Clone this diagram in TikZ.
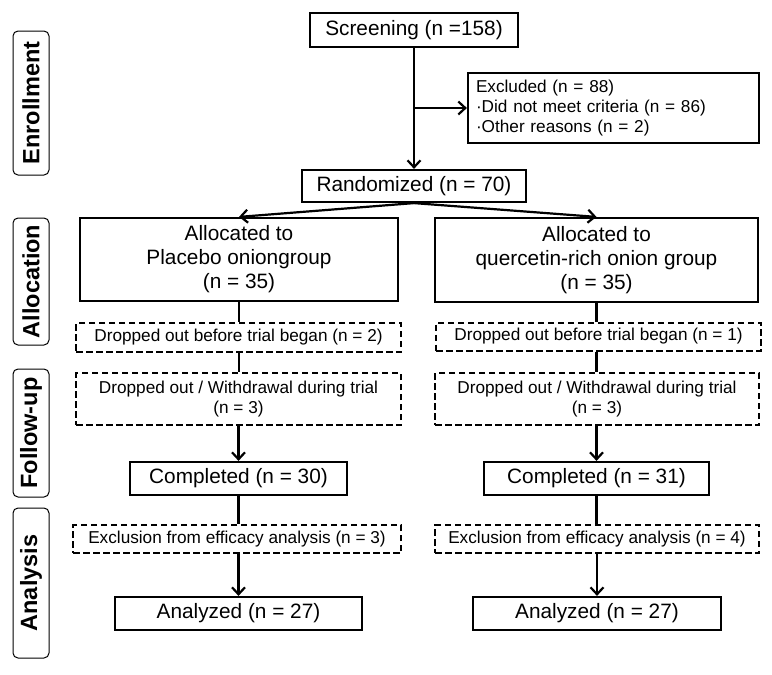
\documentclass[tikz,border=0pt]{standalone}
\usepackage{fontspec}
\setmainfont{Liberation Sans}
\usetikzlibrary{arrows.meta}
\begin{document}
\begin{tikzpicture}[x=1pt,y=-1pt,
  box/.style={draw,line width=2.2pt,inner sep=0pt,align=center,font=\fontsize{20.8}{24}\selectfont},
  dbox/.style={draw,line width=2pt,dash pattern=on 6.5pt off 3.5pt,inner sep=0pt,align=center,font=\fontsize{17.2}{20}\selectfont},
  side/.style={draw,line width=1pt,rounded corners=5pt,rotate=90,inner sep=0pt,minimum height=36pt,font=\fontsize{23.5}{26}\selectfont\bfseries},
  conn/.style={line width=2.2pt},
  arr/.style={conn,-{Straight Barb[length=7pt,width=13pt,line width=2.2pt]}}
]
\useasboundingbox[fill=white] (0,0) rectangle (772,675);
% side labels
\node[side,minimum width=144pt] (senr) at (31,103) {Enrollment};
\node[side,minimum width=127pt] (sall) at (31,281.5) {Allocation};
\node[side,minimum width=128pt] (sfol) at (31,433) {Follow-up};
\node[side,minimum width=150pt] (sana) at (31,583) {Analysis};
% top
\node[box,minimum width=208pt,minimum height=34pt] (scr) at (414,30) {Screening (n =158)};
\node[draw,line width=2.2pt,inner xsep=8pt,inner ysep=0pt,align=left,text width=275pt,minimum height=70pt,font=\fontsize{17.2}{20}\selectfont] (exc) at (613.5,108) {Excluded (n = 88)\\·Did not meet criteria (n = 86)\\·Other reasons (n = 2)};
\node[box,minimum width=224pt,minimum height=32pt] (rnd) at (414,186) {Randomized (n = 70)};
% allocation
\node[box,minimum width=318pt,minimum height=83pt] (al) at (239,259.5) {Allocated to\\Placebo oniongroup\\(n = 35)};
\node[box,minimum width=323pt,minimum height=84pt] (ar) at (596.5,260) {Allocated to\\quercetin-rich onion group\\(n = 35)};
\node[dbox,minimum width=325pt,minimum height=29pt] (dbl) at (238.5,337.5) {Dropped out before trial began (n = 2)};
\node[dbox,minimum width=325pt,minimum height=28pt] (dbr) at (598.5,336.5) {Dropped out before trial began (n = 1)};
% follow-up
\node[dbox,minimum width=325pt,minimum height=52pt] (wl) at (238.5,399) {Dropped out / Withdrawal during trial\\(n = 3)};
\node[dbox,minimum width=324pt,minimum height=52pt] (wr) at (597,399) {Dropped out / Withdrawal during trial\\(n = 3)};
\node[box,minimum width=217pt,minimum height=33pt] (cl) at (238.5,478.5) {Completed (n = 30)};
\node[box,minimum width=225pt,minimum height=33pt] (cr) at (596.5,478.5) {Completed (n = 31)};
% analysis
\node[dbox,minimum width=328pt,minimum height=28pt] (el) at (237,539) {Exclusion from efficacy analysis (n = 3)};
\node[dbox,minimum width=324pt,minimum height=28pt] (er) at (597,539) {Exclusion from efficacy analysis (n = 4)};
\node[box,minimum width=247pt,minimum height=33pt] (nl) at (238.5,613.5) {Analyzed (n = 27)};
\node[box,minimum width=248pt,minimum height=33pt] (nr) at (597,613.5) {Analyzed (n = 27)};
% connectors
\draw[arr] (scr.south) -- (rnd.north);
\coordinate (ej) at (scr.south |- exc.west);
\draw[arr] (ej) -- (exc.west);
\draw[arr] (rnd.south) -- (al.north);
\draw[arr] (rnd.south) -- (ar.north);
\draw[conn] (al.south) -- (al.south |- dbl.north);
\draw[conn] (ar.south) -- (ar.south |- dbr.north);
\draw[conn] (al.south |- dbl.south) -- (al.south |- wl.north);
\draw[conn] (ar.south |- dbr.south) -- (ar.south |- wr.north);
\draw[arr] (cl.north |- wl.south) -- (cl.north);
\draw[arr] (cr.north |- wr.south) -- (cr.north);
\draw[conn] (cl.south) -- (cl.south |- el.north);
\draw[conn] (cr.south) -- (cr.south |- er.north);
\draw[arr] (nl.north |- el.south) -- (nl.north);
\draw[arr] (nr.north |- er.south) -- (nr.north);
\end{tikzpicture}
\end{document}
